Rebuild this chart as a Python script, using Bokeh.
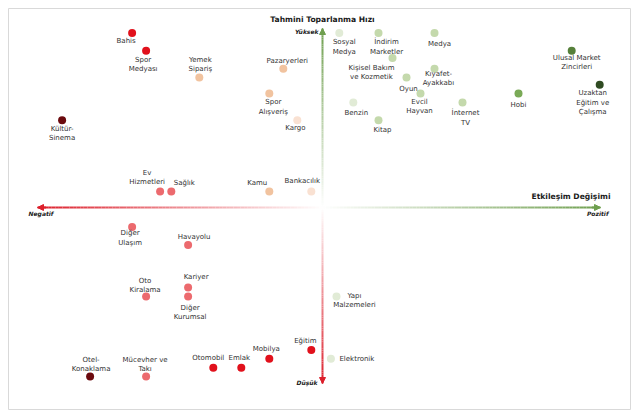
from bokeh.plotting import figure
from bokeh.models import Range1d, ColumnDataSource, Arrow, NormalHead, Label
from bokeh.embed import file_html
from bokeh.resources import INLINE
from bokeh.core.properties import value
import numpy as np

# ---------------- data ----------------
sectors = [
    "Bahis", "Spor\nMedyası", "Yemek\nSipariş", "Pazaryerleri", "Spor\nAlışveriş", "Kargo",
    "Kültür-\nSinema", "Ev\nHizmetleri", "Sağlık", "Kamu", "Bankacılık",
    "Sosyal\nMedya", "İndirim\nMarketler", "Medya", "Kişisel Bakım\nve Kozmetik",
    "Kıyafet-\nAyakkabı", "Oyun", "Evcil\nHayvan", "Benzin", "İnternet\nTV", "Kitap",
    "Hobi", "Ulusal Market\nZincirleri", "Uzaktan\nEğitim ve\nÇalışma",
    "Diğer\nUlaşım", "Havayolu", "Oto\nKiralama", "Kariyer", "Diğer\nKurumsal",
    "Otel-\nKonaklama", "Mücevher ve\nTakı", "Otomobil", "Emlak", "Mobilya", "Eğitim",
    "Yapı\nMalzemeleri", "Elektronik",
]
etkilesim_degisimi = [
    -68, -63, -44, -14, -19, -9,
    -93, -58, -54, -19, -4,
    6, 20, 40, 25,
    40, 30, 35, 11, 50, 20,
    70, 89, 99,
    -68, -48, -63, -48, -48,
    -83, -63, -39, -29, -19, -4,
    5, 3,
]
toparlanma_hizi = [
    98, 88, 73, 78, 64, 49,
    49, 9, 9, 9, 9,
    98, 98, 98, 84,
    78, 73, 64, 59, 59, 49,
    64, 88, 69,
    -11, -21, -50, -45, -50,
    -95, -95, -90, -90, -85, -80,
    -50, -85,
]
# colour class: r3 dark red, r2 red, r1 pink-red, o2 peach, o1 light peach,
#               g0 very light green, g1 light green, g2 mid, g3 dark, g4 darkest
colour_class = [
    "r2", "r2", "o2", "o2", "o2", "o1",
    "r3", "r1", "r1", "o2", "o1",
    "g0", "g1", "g1", "g1",
    "g1", "g1", "g1", "g0", "g1", "g1",
    "g2", "g3", "g4",
    "r1", "r1", "r1", "r1", "r1",
    "r3", "r1", "r2", "r2", "r2", "r2",
    "g0", "g0",
]

# ---------------- styling ----------------
palette = {
    "r3": "#6b0a0e", "r2": "#e1111c", "r1": "#ec6a6e",
    "o2": "#f1c39f", "o1": "#f9e1d2",
    "g0": "#e1ebd6", "g1": "#c4d9ac", "g2": "#7aaa57", "g3": "#56803a", "g4": "#2f4b22",
}
# label placement offsets (screen px, +y = down)
lab_dx = [-6, -3, 1, 4, 4, -2,
          0, -13, 13, -12, -9,
          5, 8, 5, -21,
          4, 2, -1, 3, 3, 4,
          0, 5, -7,
          -2, 6, -1, 8, 2,
          1, -1, -5, -2, -3, -6,
          18, 26]
lab_dy = [8, 14, -13, -8, 13.5, 7.5,
          13.5, -14, -8, -8, -10,
          14, 14, 11, 14.5,
          9.5, 11, 13, 11, 15.5, 10,
          11, 11.5, 18,
          11, -8, -11, -11, 16,
          -12, -12, -10, -10, -10, -9,
          4, 0]

M = 8                          # frame offset inside the figure
W, H = 622, 401                # frame size
CX, CY = 322 - M, 207 - M      # centre of the cross inside the frame (px)
SX, SY = 2.8, 1.78             # px per unit

def px(xp):  # frame px -> data x
    return (xp - CX) / SX

def py(yp):  # frame px (from top) -> data y
    return (CY - yp) / SY

p = figure(width=W + M + 2, height=H + M + 2, output_backend="svg", toolbar_location=None,
           x_range=Range1d(px(0), px(W)), y_range=Range1d(py(H), py(0)),
           min_border_left=M, min_border_top=M, min_border_right=2, min_border_bottom=2,
           background_fill_color="white", border_fill_color="white")
p.axis.visible = False
p.grid.visible = False
p.outline_line_color = "#d9d9d9"
p.outline_line_width = 1

def hex2rgb(h):
    return np.array([int(h[i:i + 2], 16) for i in (1, 3, 5)], dtype=float)

def grad_segments(x0, y0, x1, y1, c0, c1, n=80):
    t = np.linspace(0, 1, n + 1)
    xs = x0 + (x1 - x0) * t
    ys = y0 + (y1 - y0) * t
    a, b = hex2rgb(c0), hex2rgb(c1)
    cols = []
    for k in range(n):
        tt = (t[k] + t[k + 1]) / 2
        c = a + (b - a) * tt
        cols.append("#%02x%02x%02x" % tuple(int(round(v)) for v in c))
    p.segment(xs[:-1], ys[:-1], xs[1:], ys[1:], line_color=cols, line_width=2)

RED, GREEN, WHITE = "#dc1f2b", "#6f9f4f", "#ffffff"
xl, xr = px(37 - M), px(600 - M)
yt, yb = py(28 - M), py(383 - M)
grad_segments(0, 0, xl, 0, WHITE, RED)
grad_segments(0, 0, xr, 0, WHITE, GREEN)
grad_segments(0, 0, 0, yt, WHITE, GREEN)
grad_segments(0, 0, 0, yb, WHITE, RED)

for (xs_, ys_, xe, ye, c) in [(xl + 3, 0, xl, 0, RED), (xr - 3, 0, xr, 0, GREEN),
                              (0, yt - 3, 0, yt, GREEN), (0, yb + 3, 0, yb, RED)]:
    p.add_layout(Arrow(end=NormalHead(size=6, fill_color=c, line_color=c, line_width=1),
                       x_start=xs_, y_start=ys_, x_end=xe, y_end=ye,
                       line_color=c, line_width=2))

src = ColumnDataSource(dict(
    x=etkilesim_degisimi, y=toparlanma_hizi, name=sectors,
    color=[palette[c] for c in colour_class], dx=lab_dx, dy=lab_dy))

p.scatter("x", "y", source=src, size=8, fill_color="color", line_color=None)
p.text("x", "y", text="name", source=src, x_offset="dx", y_offset="dy",
       text_align="center", text_baseline="middle", text_font=value("DejaVu Sans"),
       text_font_size="7px", text_color="#333333", text_line_height=1.15)

font = "DejaVu Sans"
def lab(x, y, t, size, style, align, color="#1a1a1a"):
    p.add_layout(Label(x=px(x - M), y=py(y - M), text=t, text_font=font,
                       text_font_size=size, text_font_style=style, text_align=align,
                       text_baseline="middle", text_color=color))

lab(322, 19, "Tahmini Toparlanma Hızı", "7.6px", "bold", "center")
lab(610, 196, "Etkileşim Değişimi", "7.6px", "bold", "right")
lab(318, 31, "Yüksek", "6px", "bold italic", "right")
lab(317, 382, "Düşük", "6px", "bold italic", "right")
lab(28, 213, "Negatif", "6px", "bold italic", "left")
lab(608, 213, "Pozitif", "6px", "bold italic", "right")

open("out.html", "w").write(file_html(p, INLINE))
